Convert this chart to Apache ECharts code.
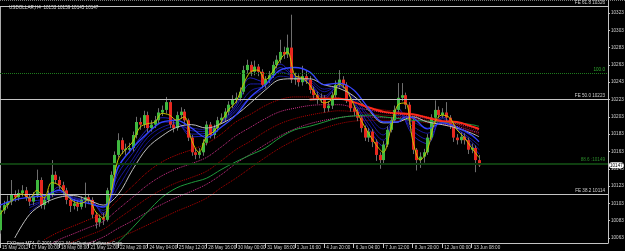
<!DOCTYPE html>
<html><head><meta charset="utf-8">
<script src="https://cdn.jsdelivr.net/npm/echarts@6/dist/echarts.min.js"></script>
<style>html,body{margin:0;padding:0;background:#000;}#c{width:625px;height:251px;}</style>
</head><body><div id="c"></div>
<script>
// ---------- data ----------
const titleText = 'USDOLLAR,H4  10153 10159 10145 10147';
const copyrightText = 'FXOpen MT4, \u00a9 2001-2012, MetaQuotes Software Corp.';
const timeTickLabels = ['15 May 2012','17 May 00:00','18 May 08:00','21 May 12:00','22 May 20:00','24 May 04:00','25 May 12:00','28 May 16:00','30 May 00:00','31 May 08:00','1 Jun 16:00','4 Jun 20:00','6 Jun 04:00','7 Jun 12:00','8 Jun 20:00','12 Jun 00:00','13 Jun 08:00'];
const priceTicks = [10323,10303,10283,10263,10243,10223,10203,10183,10163,10143,10123,10103,10083,10063];
const slotCount = 166; // bars + empty chart shift on the right

const opens = [10072,10095,10101,10105,10113,10110,10115,10118,10110,10105,
10112,10130,10101,10107,10113,10136,10130,10124,10118,10107,
10100,10103,10099,10107,10110,10107,10090,10081,10086,10084,
10118,10136,10159,10176,10165,10165,10167,10182,10197,10194,
10205,10190,10194,10199,10208,10211,10220,10194,10190,10205,
10209,10199,10179,10162,10159,10162,10173,10194,10182,10190,
10199,10202,10209,10217,10223,10225,10232,10257,10263,10255,
10261,10255,10240,10246,10251,10263,10269,10278,10275,10283,
10246,10248,10243,10250,10246,10234,10228,10223,10225,10213,
10216,10228,10240,10246,10240,10223,10213,10209,10202,10190,
10179,10186,10174,10159,10153,10171,10188,10199,10211,10225,
10228,10217,10199,10165,10153,10157,10162,10179,10202,10211,
10205,10208,10202,10194,10179,10176,10180,10176,10165,10167,
10153];
const closes = [10095,10101,10105,10113,10110,10115,10118,10110,10105,10112,
10130,10101,10107,10113,10136,10130,10124,10118,10107,10100,
10103,10099,10107,10110,10107,10090,10081,10086,10084,10118,
10136,10159,10176,10165,10166,10167,10182,10197,10194,10205,
10190,10194,10199,10208,10211,10220,10194,10190,10205,10209,
10199,10179,10162,10159,10162,10173,10194,10182,10190,10199,
10202,10209,10217,10223,10225,10232,10257,10263,10255,10261,
10255,10240,10246,10251,10263,10269,10278,10275,10283,10246,
10248,10243,10250,10246,10234,10228,10223,10225,10213,10216,
10228,10240,10246,10240,10223,10213,10209,10202,10190,10179,
10186,10174,10159,10153,10171,10188,10199,10211,10225,10228,
10217,10199,10165,10153,10157,10162,10179,10202,10211,10205,
10208,10202,10194,10179,10176,10180,10176,10165,10167,10153,
10147];
const highs = [10098,10106,10112,10130,10118,10119,10124,10122,10114,10116,
10142,10133,10111,10118,10153,10140,10134,10128,10121,10110,
10108,10107,10111,10127,10114,10110,10093,10090,10092,10121,
10140,10163,10184,10179,10172,10173,10186,10203,10202,10210,
10209,10199,10204,10213,10216,10226,10223,10198,10209,10214,
10212,10201,10182,10166,10167,10177,10198,10197,10194,10203,
10207,10213,10221,10228,10231,10237,10262,10269,10267,10268,
10264,10258,10250,10256,10267,10274,10292,10284,10298,10321,
10254,10252,10262,10256,10250,10238,10232,10230,10228,10221,
10232,10245,10257,10250,10243,10226,10216,10212,10205,10193,
10190,10189,10177,10162,10175,10192,10203,10216,10242,10242,
10231,10220,10201,10167,10162,10166,10183,10206,10222,10215,
10213,10220,10205,10197,10183,10185,10184,10179,10172,10170,
10159];
const lows = [10068,10091,10097,10101,10105,10106,10111,10106,10100,10101,
10109,10097,10096,10103,10110,10126,10119,10113,10102,10093,
10096,10094,10096,10098,10102,10086,10074,10076,10078,10082,
10115,10133,10156,10160,10159,10161,10163,10178,10188,10190,
10185,10186,10190,10195,10204,10207,10190,10185,10187,10201,
10194,10175,10158,10154,10155,10158,10170,10178,10178,10186,
10195,10198,10205,10213,10219,10221,10229,10253,10250,10251,
10250,10236,10236,10242,10248,10259,10265,10270,10271,10242,
10240,10238,10239,10241,10230,10223,10218,10219,10208,10209,
10212,10225,10237,10236,10219,10209,10204,10198,10185,10175,
10174,10168,10152,10143,10149,10168,10185,10196,10208,10221,
10212,10194,10160,10141,10144,10150,10159,10176,10198,10201,
10202,10198,10189,10174,10171,10172,10171,10160,10161,10139,
10145];

// indicator lines (bar index -> value)
const yellowIdx = [0,2,4,6,8,10,12,14,16,18,20,22,24,26,28,30,32,34,36,38,40,42,44,46,48,50,52,54,56,58,60,62,64,66,68,70,72,74,76,78,80,82,84,86,88,90,92,94,96,98,100,102,104,106,108,110,112,114,116,118,120,122,124,126,128,130];
const yellowVals = [10090,10101,10109,10114,10109,10118,10109,10127,10124,10113,
10105,10103,10107,10093,10086,10113,10153,10165,10174,10191,
10195,10197,10207,10205,10199,10203,10176,10162,10180,10186,
10197,10211,10220,10240,10255,10257,10246,10255,10269,10278,
10251,10248,10240,10227,10219,10223,10241,10234,10217,10199,
10184,10171,10162,10188,10217,10219,10176,10153,10165,10197,
10205,10202,10188,10179,10167,10156];
const blueIdx = [0,4,8,12,16,20,24,28,30,32,36,40,44,48,52,56,60,64,68,72,76,80,84,88,92,96,100,104,108,110,112,116,120,124,128,130];
const blueVals = [10101,10107,10110,10112,10118,10107,10103,10099,10109,10144,10167,10184,10197,10199,10190,10179,10191,10205,10226,10240,10257,10260,10255,10240,10242,10234,10213,10197,10197,10203,10202,10189,10196,10191,10182,10174];
const whiteIdx = [4,8,12,16,20,24,28,32,36,40,44,48,52,56,60,64,68,72,76,80,84,88,92,96,100,104,108,112,116,120,124,128,130];
const whiteVals = [10063,10090,10103,10110,10112,10107,10101,10113,10142,10167,10181,10191,10194,10190,10195,10205,10219,10234,10246,10247,10247,10240,10236,10227,10211,10196,10197,10203,10197,10194,10190,10184,10180];
const greenIdx = [32,34,36,40,44,48,52,56,60,64,68,72,76,80,84,88,92,96,100,104,108,112,116,120,124,128,130];
const greenVals = [10058,10066,10075,10093,10110,10121,10127,10132,10142,10151,10159,10167,10179,10188,10192,10197,10202,10204,10205,10203,10201,10199,10198,10197,10196,10194,10192];
const redIdx = [84,88,92,96,100,104,108,112,116,120,124,128,130];
const redVals = [10223,10224,10224,10220,10214,10209,10207,10206,10202,10198,10197,10192,10189];
const ribbonRedIdx = [12,16,20,24,28,32,36,40,44,48,52,56,60,64,68,72,76,80,84,88,92,96,100,104,108,112,116,120,124,128,130];
const ribbonRed1 = [10061,10070,10077,10084,10091,10107,10123,10139,10151,10159,10165,10172,10183,10197,10206,10216,10223,10226,10226,10226,10225,10220,10214,10211,10209,10206,10203,10199,10197,10192,10190];
const ribbonRed2 = [10051,10061,10068,10075,10082,10096,10110,10124,10135,10143,10149,10156,10168,10181,10191,10201,10209,10213,10216,10217,10217,10214,10211,10208,10206,10204,10201,10198,10195,10191,10188];
const ribbonRed3 = [10042,10051,10059,10066,10073,10085,10097,10109,10119,10127,10133,10140,10152,10165,10175,10186,10195,10201,10205,10208,10210,10209,10207,10205,10204,10202,10199,10197,10194,10189,10187];
const ribbonRed4 = [10033,10042,10050,10057,10064,10074,10083,10093,10102,10110,10117,10125,10136,10149,10160,10171,10181,10189,10195,10199,10202,10204,10203,10202,10202,10201,10198,10195,10192,10187,10185];
const ribbonRed5 = [10024,10033,10041,10048,10055,10063,10070,10078,10086,10094,10101,10109,10121,10132,10144,10156,10167,10176,10184,10190,10195,10198,10199,10199,10199,10198,10196,10194,10190,10186,10183];
const ribbonBlueIdx = [8,12,16,20,24,28,32,36,40,44,48,52,56,60,64,68,72,76,80,84,88,92,96,100,104,108,112,116,120,124,128,130];
const ribbonBlue1 = [10106,10108,10122,10106,10108,10090,10145,10167,10189,10202,10198,10180,10182,10197,10217,10248,10243,10264,10250,10241,10224,10240,10219,10190,10169,10213,10182,10172,10203,10188,10170,10160];
const ribbonBlue2 = [10101,10107,10119,10107,10107,10092,10137,10161,10183,10197,10196,10183,10184,10196,10214,10241,10241,10260,10249,10242,10227,10239,10221,10195,10176,10209,10187,10177,10201,10189,10174,10165];
const ribbonBlue3 = [10098,10106,10116,10109,10106,10095,10129,10154,10179,10191,10195,10187,10186,10196,10211,10233,10239,10255,10249,10244,10232,10239,10224,10201,10182,10205,10192,10184,10198,10189,10177,10170];
const ribbonBlue4 = [10093,10105,10113,10110,10105,10098,10121,10149,10173,10187,10192,10190,10188,10195,10209,10226,10236,10250,10248,10246,10235,10238,10226,10205,10189,10201,10197,10190,10196,10190,10181,10175];

const levelValues = [10331,10253,10223,10149,10114];
const levelLabels = ['FE 61.8 10326','100.0','FE 50.0 10223','88.6 :10149','FE 38.2 10114'];
const lastPrice = 10147;

// ---------- chart ----------
const FONT = 'Liberation Sans';
const FS = 4.6;
const cats = [];
for (let i = 0; i < slotCount; i++) cats.push(String(i));
const candleData = opens.map((o, i) => [i, o, closes[i], lows[i], highs[i]]);
const pairs = (idx, vals) => idx.map((k, j) => [k, vals[j]]);

function lineSeries(idx, vals, color, width, type, z) {
  return {type: 'line', data: pairs(idx, vals), smooth: 0.35, showSymbol: false, symbol: 'none',
    lineStyle: {color: color, width: width, type: type || 'solid'}, z: z, silent: true, animation: false};
}

const levelStyles = [
  {color: '#c4c4c4', type: 'solid', width: 1, label: '#d0d0d0'},
  {color: '#1d7a1d', type: 'dotted', width: 1, label: '#2faa2f'},
  {color: '#c4c4c4', type: 'solid', width: 1, label: '#d0d0d0'},
  {color: '#0f3f10', type: 'solid', width: 2, label: '#2a8a2a'},
  {color: '#c4c4c4', type: 'solid', width: 1, label: '#d0d0d0'}
];
const markData = levelValues.map((v, k) => ({
  yAxis: v,
  lineStyle: {color: levelStyles[k].color, type: levelStyles[k].type, width: levelStyles[k].width},
  label: {show: true, position: 'insideEndTop', formatter: levelLabels[k], color: levelStyles[k].label,
    fontSize: FS, fontFamily: FONT, distance: [3, 1]}
}));

const chart = echarts.init(document.getElementById('c'), null, {renderer: 'canvas'});
chart.setOption({
  backgroundColor: '#000',
  animation: false,
  title: [
    {text: titleText, left: 4, top: 0, textStyle: {fontSize: FS, color: '#d8d8d8', fontWeight: 'normal', fontFamily: FONT}},
    {text: copyrightText, left: 2, top: 236, textStyle: {fontSize: FS, color: '#d8d8d8', fontWeight: 'normal', fontFamily: FONT}}
  ],
  grid: {left: 0, right: 17, top: 0, bottom: 8, containLabel: false, outerBoundsMode: 'none'},
  xAxis: {
    type: 'category', data: cats, boundaryGap: false,
    axisLine: {lineStyle: {color: '#c4c4c4', width: 1}},
    axisTick: {show: true, length: 5, interval: (i) => i % 8 === 0 && i <= 128, lineStyle: {color: '#c4c4c4'}},
    axisLabel: {interval: (i) => i % 8 === 0 && i <= 128, formatter: (v, i) => timeTickLabels[Math.round(i / 8)] || '',
      color: '#d0d0d0', fontSize: FS, fontFamily: FONT, align: 'left', margin: 2, padding: [0, 0, 0, 2]},
    splitLine: {show: false}
  },
  yAxis: {
    type: 'value', position: 'right', min: 10057.2, max: 10338, scale: true,
    axisLine: {show: true, lineStyle: {color: '#c4c4c4', width: 1}},
    axisTick: {show: true, length: 2, customValues: priceTicks, lineStyle: {color: '#c4c4c4'}},
    axisLabel: {customValues: priceTicks, formatter: (v) => String(Math.round(v)), color: '#d0d0d0', fontSize: FS, fontFamily: FONT, margin: 3},
    axisPointer: {show: true, value: lastPrice, status: 'show', triggerTooltip: false, lineStyle: {opacity: 0},
      label: {show: true, formatter: () => String(lastPrice), color: '#000', backgroundColor: '#fff', fontSize: FS,
        fontFamily: FONT, padding: [1, 1, 0, 1], margin: 1, shadowBlur: 0}},
    splitLine: {show: false}
  },
  axisPointer: {show: true, triggerOn: 'none'},
  series: [
    lineSeries(ribbonRedIdx, ribbonRed5, '#b00000', 1, 'dotted', 1),
    lineSeries(ribbonRedIdx, ribbonRed4, '#d0308a', 1, 'dotted', 1),
    lineSeries(ribbonRedIdx, ribbonRed3, '#b00000', 1, 'dotted', 1),
    lineSeries(ribbonRedIdx, ribbonRed2, '#d0308a', 1, 'dotted', 1),
    lineSeries(ribbonRedIdx, ribbonRed1, '#c00000', 1, 'dotted', 1),
    lineSeries(ribbonBlueIdx, ribbonBlue4, '#15158a', 1, 'solid', 1),
    lineSeries(ribbonBlueIdx, ribbonBlue3, '#18189a', 1, 'solid', 1),
    lineSeries(ribbonBlueIdx, ribbonBlue2, '#1c1caa', 1, 'solid', 1),
    lineSeries(ribbonBlueIdx, ribbonBlue1, '#2020b8', 1, 'solid', 1),
    {
      type: 'custom', data: candleData, encode: {x: 0, y: [1, 2, 3, 4]}, z: 3, silent: true, clip: true,
      renderItem: function (params, api) {
        const i = api.value(0), o = api.value(1), c = api.value(2), l = api.value(3), h = api.value(4);
        const po = api.coord([i, o]), pc = api.coord([i, c]), pl = api.coord([i, l]), ph = api.coord([i, h]);
        const x = Math.round(po[0]);
        const top = Math.min(po[1], pc[1]), bot = Math.max(po[1], pc[1]);
        return {type: 'group', children: [
          {type: 'line', shape: {x1: x + 0.5, y1: ph[1], x2: x + 0.5, y2: pl[1]}, style: {stroke: '#6e6e6e', lineWidth: 1}},
          {type: 'rect', shape: {x: x - 1, y: top, width: 3, height: Math.max(1, bot - top)}, style: {fill: c >= o ? '#3fb83f' : '#e8281f'}}
        ]};
      }
    },
    Object.assign(lineSeries(greenIdx, greenVals, '#1f9a3c', 1, 'solid', 4), {
      markLine: {symbol: 'none', silent: true, animation: false, data: markData}
    }),
    lineSeries(whiteIdx, whiteVals, '#bdbdbd', 1, 'solid', 4),
    lineSeries(redIdx, redVals, '#ff2a1a', 2, 'solid', 4),
    lineSeries(blueIdx, blueVals, '#3545ff', 1.3, 'solid', 4),
    lineSeries(yellowIdx, yellowVals, '#c9c200', 1, 'solid', 5)
  ],
  graphic: [
    {type: 'line', shape: {x1: 0, y1: 0.5, x2: 625, y2: 0.5}, style: {stroke: '#777', lineDash: [1, 1], lineWidth: 1}, silent: true},
    {type: 'line', shape: {x1: 0.5, y1: 6, x2: 0.5, y2: 243}, style: {stroke: '#aaa', lineWidth: 1}, silent: true}
  ]
});
</script></body></html>
